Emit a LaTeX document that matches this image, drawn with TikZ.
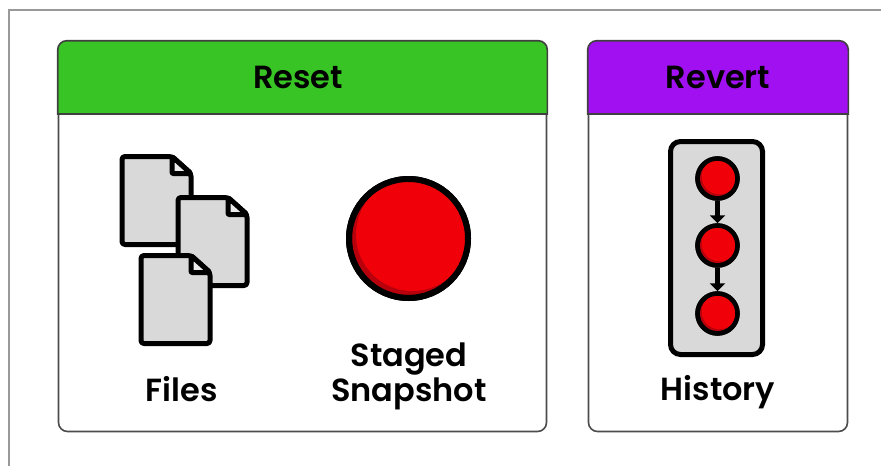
\documentclass[tikz,border=0pt]{standalone}
\usepackage{fontspec}
\setmainfont{Poppins Medium}[BoldFont={Poppins SemiBold}]
\usetikzlibrary{arrows.meta}
\definecolor{docgrey}{HTML}{D9D9D9}
\definecolor{resetgreen}{HTML}{38C424}
\definecolor{revertpurple}{HTML}{A010F0}
\definecolor{brightred}{HTML}{F00008}
\definecolor{darkred}{HTML}{B8000C}
\tikzstyle{panelbox} = [draw=black!70, fill=white, line width=1.6pt,
    rectangle, rounded corners=9pt, inner sep=0pt]
\tikzstyle{headbar} = [draw=black!75, line width=1.6pt, rounded corners=9pt]
\tikzstyle{headtitle} = [font=\fontsize{32}{36}\selectfont\bfseries, inner sep=0pt]
\tikzstyle{caption} = [font=\fontsize{32}{35}\selectfont\bfseries, inner sep=0pt, align=center]
\tikzstyle{page} = [draw=black, line width=5pt, fill=docgrey, rounded corners=3pt, line join=round]
\tikzstyle{redball} = [circle, draw=black, line width=4.5pt, fill=darkred, inner sep=0pt, minimum size=40pt]
\tikzstyle{step arrow} = [-{Triangle[width=15pt,length=8pt]}, line width=4.5pt, black]
\newcommand{\docpage}[2]{%
    \draw[page] (#1,#2) -- ++(50,0) -- ++(19,17) -- ++(0,71) -- ++(-69,0) -- cycle;
    \draw[page, fill=docgrey!50, rounded corners=1pt] (#1+50,#2) -- ++(19,17) -- ++(-19,0) -- cycle;
}
\newcommand{\shineball}[5]{% centre x, centre y, radius, offset, stroke
    \begin{scope}
        \clip (#1,#2) circle (#3);
        \fill[brightred] (#1+#4,#2-#4) circle (#3-#5*0.5);
    \end{scope}
    \draw[black, line width=#5] (#1,#2) circle (#3);
}

\begin{document}
\begin{tikzpicture}[x=1pt, y=-1pt]
    \useasboundingbox (0,0) rectangle (881,466);
    \fill[white] (0,0) rectangle (881,466);
    \draw[black!40, line width=2pt] (881,10) -- (9,10) -- (9,466);

    \node[panelbox, minimum width=488pt, minimum height=390pt] (reset) at (302.5,236.5) {};
    \node[panelbox, minimum width=259pt, minimum height=390pt] (revert) at (718,236.5) {};
    \draw[headbar, fill=resetgreen, sharp corners] (reset.west |- 0,114) -- (reset.east |- 0,114)
        {[rounded corners=9pt] -- (reset.north east) -- (reset.north west)} -- cycle;
    \draw[headbar, fill=revertpurple, sharp corners] (revert.west |- 0,114) -- (revert.east |- 0,114)
        {[rounded corners=9pt] -- (revert.north east) -- (revert.north west)} -- cycle;
    \node[headtitle] (resettitle) at (298,77) {Reset};
    \node[headtitle] (reverttitle) at (718,77) {Revert};

    % files
    \docpage{122}{156.5}
    \docpage{178}{197.5}
    \docpage{141}{255.5}
    \node[caption] (files) at (181.5,389) {Files};

    % staged snapshot
    \node[redball, minimum size=119pt, line width=6pt] (staged) at (408.5,238.5) {};
    \shineball{408.5}{238.5}{59.5}{4}{6}
    \node[caption] (snapshot) at (409,376) {Staged\\Snapshot};

    % history
    \node[draw=black, fill=docgrey, line width=5pt, rounded corners=10pt, inner sep=0pt,
        minimum width=92pt, minimum height=213pt] (strip) at (716.5,248) {};
    \node[redball] (commita) at (717.5,178.5) {};
    \node[redball] (commitb) at (717.5,245.5) {};
    \node[redball] (commitc) at (717.5,313.5) {};
    \shineball{717.5}{178.5}{20}{2}{4.5}
    \shineball{717.5}{245.5}{20}{2}{4.5}
    \shineball{717.5}{313.5}{20}{2}{4.5}
    \draw[step arrow] (commita.south) -- (commitb.north);
    \draw[step arrow] (commitb.south) -- (commitc.north);
    \node[caption] (history) at (718,392) {History};
\end{tikzpicture}
\end{document}
